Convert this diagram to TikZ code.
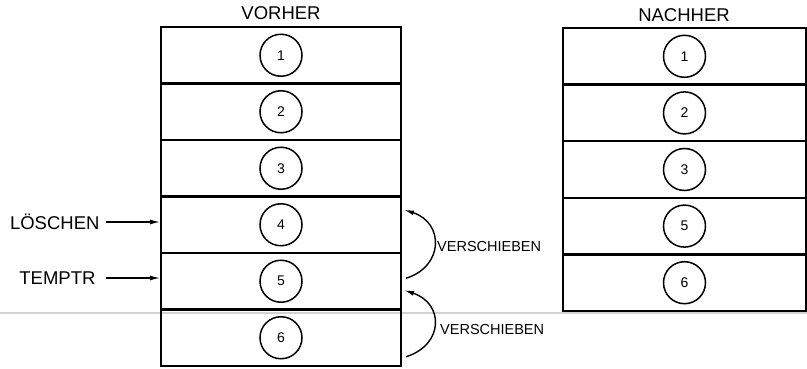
\documentclass[tikz,border=0pt]{standalone}
\usepackage{fontspec}
\setmainfont{Liberation Sans}
\usetikzlibrary{positioning,arrows.meta,calc}

\begin{document}
\begin{tikzpicture}[>={Latex[length=10pt,width=5pt]},x=1pt,y=-1pt,
  zeile/.style={draw,line width=2.2pt,minimum width=240pt,minimum height=56.5pt,inner sep=0pt},
  kreis/.style={draw,circle,line width=1.5pt,minimum size=42pt,inner sep=0pt,font=\fontsize{14}{14}\selectfont},
  titel/.style={font=\fontsize{18.5}{18.5}\selectfont},
  marke/.style={font=\fontsize{18.5}{18.5}\selectfont,anchor=east},
  hinweis/.style={font=\fontsize{14.5}{14.5}\selectfont,anchor=west,inner sep=0pt}]
  \useasboundingbox (0,0) rectangle (807,369);
  \draw[gray!35,line width=1.5pt] (0,313) -- (807,313);
  % vorher
  \foreach \i in {1,...,6} {
    \node[zeile] (alt\i) at (281,{27+56.5*(\i-0.5)}) {};
    \node[kreis] (ak\i) at (alt\i) {\i};
  }
  \node[titel] (vorher) at (281,13) {VORHER};
  % nachher
  \foreach \i/\n in {1/1,2/2,3/3,4/5,5/6} {
    \node[zeile,minimum width=243pt,minimum height=56.6pt] (neu\i) at (684.5,{28+56.6*(\i-0.5)}) {};
    \node[kreis] (nk\i) at (neu\i) {\n};
  }
  \node[titel] (nachher) at (684,15) {NACHHER};
  % zeiger
  \node[marke] (loeschen) at (103,222) {LÖSCHEN};
  \node[marke] (temptr) at (99,278) {TEMPTR};
  \draw[->,line width=1.2pt,shorten <=3pt] (loeschen.east) -- (loeschen.east -| alt4.west);
  \draw[->,line width=1.2pt,shorten <=7pt] (temptr.east) -- (temptr.east -| alt5.west);
  % verschieben
  \coordinate (v1a) at ($(alt5.east)+(4,-3)$);
  \coordinate (v1b) at ($(alt4.east)+(2,-15)$);
  \coordinate (v2a) at ($(alt6.east)+(4,19)$);
  \coordinate (v2b) at ($(alt5.east)+(2,9)$);
  \draw[->,line width=1.4pt] (v1a) .. controls +(38,-12) and +(40,13) .. (v1b);
  \draw[->,line width=1.4pt] (v2a) .. controls +(38,-12) and +(40,13) .. (v2b);
  \node[hinweis] (schieb1) at (437,247) {VERSCHIEBEN};
  \node[hinweis] (schieb2) at (440,330) {VERSCHIEBEN};
\end{tikzpicture}
\end{document}
